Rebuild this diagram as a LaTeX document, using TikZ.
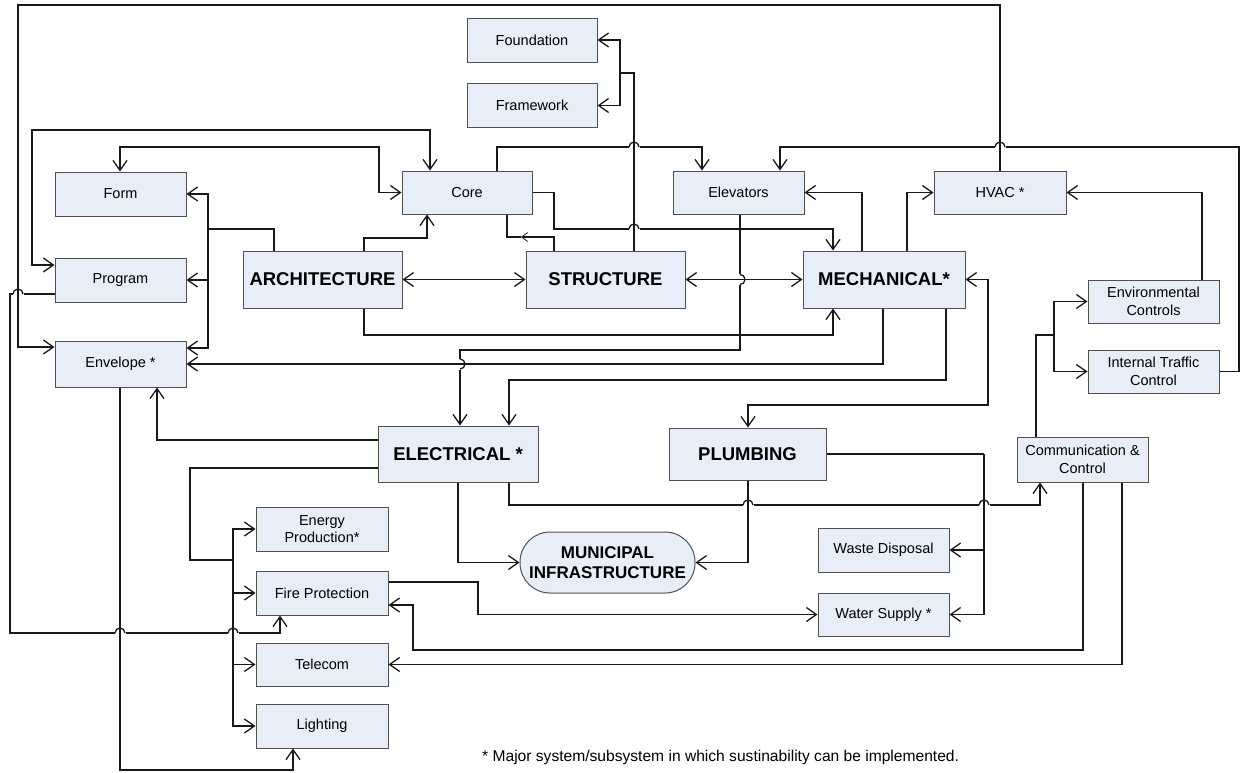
\documentclass[tikz,border=0pt]{standalone}
\usepackage{fontspec}
\setmainfont{Liberation Sans}
\usetikzlibrary{arrows.meta,calc}
\definecolor{boxfill}{RGB}{231,238,247}
\definecolor{boxline}{RGB}{80,80,80}
\definecolor{ink}{RGB}{25,25,25}
\newcommand\hopH[2]{%
  \fill[white] (#1-5.5,#2-1.6) rectangle (#1+5.5,#2+1.6);
  \draw[conn] (#1,#2-4) -- (#1,#2+4);
  \draw[conn] (#1-5,#2) arc[start angle=180,end angle=0,radius=5pt];}
\newcommand\hopV[2]{%
  \fill[white] (#1-1.6,#2-5.5) rectangle (#1+1.6,#2+5.5);
  \draw[conn] (#1-4,#2) -- (#1+4,#2);
  \draw[conn] (#1,#2-5) arc[start angle=90,end angle=-90,radius=5pt];}
\tikzset{
  conn/.style={line width=1.3pt, draw=ink},
  arr/.style={conn, -{Straight Barb[length=10pt,width=14pt]}},
  arrs/.style={conn, {Straight Barb[length=10pt,width=14pt]}-{Straight Barb[length=10pt,width=14pt]}},
  box/.style={draw=boxline, fill=boxfill, line width=1pt, inner sep=0pt, align=center,
    font=\fontsize{14.5}{17.5}\selectfont, minimum width=131pt, minimum height=44pt},
  major/.style={box, font=\bfseries\fontsize{18.5}{21}\selectfont, minimum width=159pt, minimum height=57pt},
}
\begin{document}
\begin{tikzpicture}[x=1pt,y=-1pt]
\fill[white] (0,0) rectangle (1241,772);
\useasboundingbox (0,0) rectangle (1241,772);

% nodes
\node[box] (form) at (120.5,194) {Form};
\node[box] (program) at (120.5,280) {Program};
\node[box, minimum height=46pt] (envelope) at (120.5,364) {Envelope *};
\node[box, minimum width=130pt] (foundation) at (532,40) {Foundation};
\node[box, minimum width=130pt] (framework) at (532,105.5) {Framework};
\node[box, minimum width=130pt, minimum height=43pt] (core) at (467,192.5) {Core};
\node[box, minimum height=43pt] (elevators) at (738.5,192.5) {Elevators};
\node[box, minimum width=132pt, minimum height=43pt] (hvac) at (1000,192.5) {HVAC *};
\node[major] (arch) at (322.5,279.5) {ARCHITECTURE};
\node[major] (struct) at (605.5,279.5) {STRUCTURE};
\node[major, minimum width=162pt] (mech) at (884,279.5) {MECHANICAL*};
\node[box, minimum height=43pt] (envctl) at (1153.5,301.5) {Environmental\\Controls};
\node[box, minimum height=43pt] (itc) at (1153.5,371.5) {Internal Traffic\\Control};
\node[major, minimum width=160pt, minimum height=56pt] (elec) at (458,454) {ELECTRICAL *};
\node[major, minimum width=157pt, minimum height=52pt] (plumb) at (747.5,454) {PLUMBING};
\node[box, minimum height=45pt] (comm) at (1082.5,459.5) {Communication \&\\Control};
\node[box, minimum width=132pt] (energy) at (322,529) {Energy\\Production*};
\node[box, minimum width=132pt] (fire) at (322,593) {Fire Protection};
\node[box, minimum width=132pt, minimum height=43pt] (telecom) at (322,664.5) {Telecom};
\node[box, minimum width=132pt] (lighting) at (322,726) {Lighting};
\node[box, minimum width=175pt, minimum height=61pt, rounded corners=30pt,
  font=\bfseries\fontsize{17}{19.5}\selectfont] (muni) at (607.5,562.5) {MUNICIPAL\\INFRASTRUCTURE};
\node[box] (waste) at (883.5,550) {Waste Disposal};
\node[box, minimum height=43pt] (water) at (883.5,614.5) {Water Supply *};
\node[font=\fontsize{15.6}{18}\selectfont, anchor=west, inner sep=0pt] (note) at (482,757)
  {* Major system/subsystem in which sustinability can be implemented.};

% junction coordinates
\coordinate (jA) at (208,229);
\coordinate (jS) at (620,73);
\coordinate (jE) at (233,560);
\coordinate (jP) at (984,454);
\coordinate (jC) at (1054,335);

% connectors
\draw[arr] (hvac.north) |- (18,5) |- (envelope.west |- 0,347);
\draw[arrs] (core.north -| 430,0) |- (32,130) |- (program.west |- 0,265);
\draw[arrs] (form.north -| 120,0) |- (379,147) |- (core.west);
\draw[arr] (program.west |- 0,294) -| (10,633) -| (fire.south -| 280,0);
\draw[arr] (envelope.south -| 120,0) -- (120,770) -| (lighting.south -| 293,0);

\draw[conn] (arch.north -| 274,0) |- (jA);
\draw[arr] (jA) |- (form.east);
\draw[arr] (jA) |- (program.east);
\draw[arr] (jA) |- (envelope.east |- 0,348);

\draw[arr] (arch.north -| 364,0) |- (427,238) -- (core.south -| 427,0);
\draw[arrs] (arch.east) -- (struct.west);
\draw[arr] (arch.south -| 364,0) |- (833,335) -- (mech.south -| 833,0);
\draw[arr] (core.east) -| (554,229) -| (mech.north -| 833,0);
\draw[conn, -{Straight Barb[length=6pt,width=9pt,line width=0.8pt]}] (struct.north -| 554,0) |- (521,237);
\draw[conn] (521,237) -| (core.south -| 507,0);

\draw[conn] (struct.north -| 634,0) |- (jS);
\draw[arr] (jS) |- (foundation.east);
\draw[arr] (jS) |- (framework.east);

\draw[arr] (core.north -| 497,0) |- (702,147) -- (elevators.north -| 702,0);
\draw[arr] (itc.east) -| (1239,147) -| (elevators.north -| 780,0);
\draw[arr] (mech.north -| 862,0) |- (elevators.east);
\draw[arr] (mech.north -| 907,0) |- (hvac.west);
\draw[arr] (envctl.north -| 1202,0) |- (hvac.east);
\draw[arrs] (struct.east) -- (mech.west);

\draw[arr] (elevators.south -| 740,0) |- (460,350) -- (elec.north -| 460,0);
\draw[arr] (mech.south -| 883,0) |- (envelope.east);
\draw[arr] (mech.south -| 946,0) |- (509,380) -- (elec.north -| 509,0);
\draw[arrs] (mech.east) -| (988,405) -| (plumb.north -| 748,0);

\draw[arr] (elec.west |- 0,440) -| (envelope.south -| 157,0);
\draw[conn] (elec.west |- 0,468) -| (190,560) -- (jE);
\draw[arr] (jE) |- (energy.west);
\draw[arr] (jE) |- (fire.west);
\draw[arr] (jE) |- (telecom.west);
\draw[arr] (jE) |- (lighting.west);
\draw[arr] (elec.south -| 458,0) |- (muni.west);
\draw[arr] (elec.south -| 509,0) |- (1040,505) -- (comm.south -| 1040,0);

\draw[arr] (plumb.south -| 748,0) |- (muni.east);
\draw[conn] (plumb.east) -- (jP);
\draw[arr] (jP) |- (waste.east);
\draw[arr] (jP) |- (water.east);

\draw[arr] (fire.east |- 0,582) -| (478,614.5) -- (water.west);
\draw[arr] (comm.south -| 1083,0) |- (413,650) |- (fire.east |- 0,605);
\draw[arr] (comm.south -| 1122,0) |- (telecom.east);

\draw[conn] (comm.north -| 1036,0) |- (jC);
\draw[arr] (jC) |- (envctl.west);
\draw[arr] (jC) |- (itc.west);

% line hops
\hopH{634}{147}
\hopH{634}{229}
\hopH{1000}{147}
\hopH{18}{294}
\hopH{120}{633}
\hopH{233}{633}
\hopV{740}{279.5}
\hopV{460}{364}
\hopH{748}{505}
\hopH{984}{505}
\end{tikzpicture}
\end{document}
